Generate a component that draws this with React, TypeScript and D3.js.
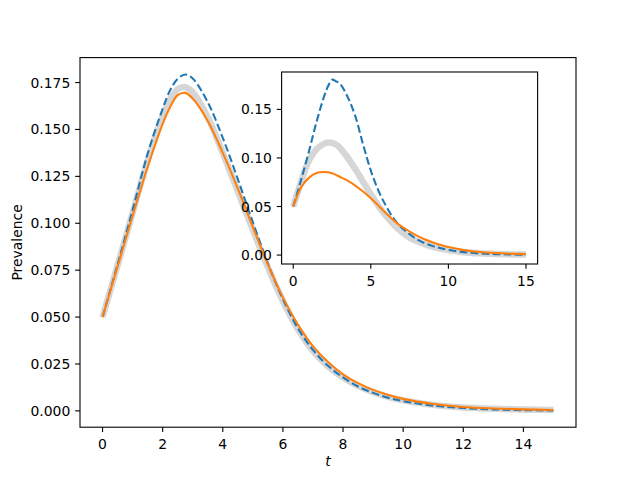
import React, { useEffect, useRef } from 'react'
import * as d3 from 'd3'

// time grid shared by every series
const tGrid = [0, 0.5, 1, 1.5, 2, 2.25, 2.5, 2.75, 3, 3.5, 4, 4.5, 5, 5.5, 6, 6.5, 7, 7.5, 8, 8.5, 9, 9.5, 10, 11, 12, 13, 14, 15]

// main panel
const mainMeanField = [0.05, 0.078, 0.107, 0.137, 0.161, 0.171, 0.177, 0.1793, 0.1772, 0.1645, 0.1455, 0.1235, 0.1005, 0.0785, 0.0595, 0.044, 0.0325, 0.024, 0.0178, 0.013, 0.0096, 0.007, 0.0052, 0.0028, 0.0015, 0.0008, 0.0004, 0.0002]
const mainExact = [0.05, 0.0775, 0.1055, 0.1335, 0.157, 0.166, 0.1715, 0.1725, 0.1698, 0.1565, 0.1375, 0.117, 0.0965, 0.0765, 0.0585, 0.0435, 0.032, 0.0238, 0.0178, 0.0133, 0.0100, 0.0075, 0.0056, 0.0032, 0.0018, 0.0011, 0.0007, 0.0005]
const mainApprox = [0.05, 0.077, 0.104, 0.130, 0.153, 0.162, 0.1683, 0.1695, 0.1665, 0.1545, 0.1375, 0.1185, 0.098, 0.078, 0.0605, 0.046, 0.0345, 0.026, 0.0195, 0.0148, 0.0112, 0.0085, 0.0064, 0.0037, 0.0021, 0.0013, 0.0008, 0.0005]

// inset panel
const insetMeanField = [0.05, 0.077, 0.106, 0.137, 0.164, 0.174, 0.1806, 0.179, 0.1765, 0.163, 0.143, 0.114, 0.087, 0.066, 0.050, 0.037, 0.028, 0.0215, 0.016, 0.012, 0.0092, 0.007, 0.0053, 0.003, 0.0017, 0.001, 0.0006, 0.0003]
const insetExact = [0.05, 0.075, 0.097, 0.109, 0.1148, 0.1158, 0.1155, 0.1138, 0.1105, 0.1005, 0.0885, 0.0755, 0.0625, 0.0505, 0.040, 0.031, 0.0237, 0.018, 0.0142, 0.011, 0.0085, 0.0066, 0.0051, 0.003, 0.0018, 0.0011, 0.0007, 0.0005]
const insetApprox = [0.05, 0.0695, 0.0795, 0.0845, 0.0856, 0.0852, 0.0842, 0.0826, 0.0806, 0.0766, 0.0716, 0.0654, 0.0585, 0.0508, 0.0428, 0.0354, 0.0292, 0.0242, 0.0198, 0.016, 0.013, 0.0105, 0.0082, 0.0051, 0.0032, 0.0021, 0.0014, 0.001]

const mainXTicks = [0, 2, 4, 6, 8, 10, 12, 14]
const mainYTicks = [0, 0.025, 0.05, 0.075, 0.1, 0.125, 0.15, 0.175]
const insetXTicks = [0, 5, 10, 15]
const insetYTicks = [0, 0.05, 0.1, 0.15]

const W = 640, H = 480
const FONT = 'DejaVu Sans, sans-serif'
const TICK = 4.86

function drawPanel(svg: any, box: { l: number, t: number, r: number, b: number }, series: number[][], xTicks: number[], yTicks: number[], yFmt: string, yDomain: [number, number]) {
  const x = d3.scaleLinear().domain([-0.75, 15.75]).range([box.l, box.r])
  const y = d3.scaleLinear().domain(yDomain).range([box.b, box.t])
  const g = svg.append('g')
  g.append('rect').attr('x', box.l).attr('y', box.t).attr('width', box.r - box.l).attr('height', box.b - box.t).attr('fill', 'white')

  const clipId = 'clip' + Math.round(box.l)
  svg.append('clipPath').attr('id', clipId).append('rect')
    .attr('x', box.l).attr('y', box.t).attr('width', box.r - box.l).attr('height', box.b - box.t)
  const plot = g.append('g').attr('clip-path', `url(#${clipId})`)

  const line = (vals: number[]) => d3.line<number>().x((_, i) => x(tGrid[i])).y(d => y(d)).curve(d3.curveCatmullRom.alpha(0.5))(vals)

  const [mf, ex, ap] = series
  plot.append('path').attr('d', line(ex)).attr('fill', 'none').attr('stroke', '#d6d6d6').attr('stroke-width', 6.5).attr('stroke-linecap', 'butt')
  plot.append('path').attr('d', line(mf)).attr('fill', 'none').attr('stroke', '#1f77b4').attr('stroke-width', 2.08).attr('stroke-dasharray', '7.7,3.33')
  plot.append('path').attr('d', line(ap)).attr('fill', 'none').attr('stroke', '#ff7f0e').attr('stroke-width', 2.08)

  // ticks
  xTicks.forEach(v => {
    g.append('line').attr('x1', x(v)).attr('x2', x(v)).attr('y1', box.b).attr('y2', box.b + TICK).attr('stroke', 'black').attr('stroke-width', 1.1)
    g.append('text').attr('x', x(v)).attr('y', box.b + 21.5).attr('text-anchor', 'middle')
      .attr('font-family', FONT).attr('font-size', 13.9).text(String(v))
  })
  yTicks.forEach(v => {
    g.append('line').attr('x1', box.l - TICK).attr('x2', box.l).attr('y1', y(v)).attr('y2', y(v)).attr('stroke', 'black').attr('stroke-width', 1.1)
    g.append('text').attr('x', box.l - 2 * TICK).attr('y', y(v)).attr('dy', '0.36em').attr('text-anchor', 'end')
      .attr('font-family', FONT).attr('font-size', 13.9).text(d3.format(yFmt)(v))
  })
  g.append('rect').attr('x', box.l).attr('y', box.t).attr('width', box.r - box.l).attr('height', box.b - box.t)
    .attr('fill', 'none').attr('stroke', 'black').attr('stroke-width', 1.1)
}

export default function App() {
  const ref = useRef<SVGSVGElement>(null)
  useEffect(() => {
    const el = ref.current
    if (!el) return
    const svg = d3.select(el)
    svg.selectAll('*').remove()
    svg.append('rect').attr('width', W).attr('height', H).attr('fill', 'white')

    drawPanel(svg, { l: 80, t: 57.6, r: 576, b: 427.2 }, [mainMeanField, mainExact, mainApprox], mainXTicks, mainYTicks, '.3f', [-0.0087, 0.1883])
    drawPanel(svg, { l: 281.6, t: 72, r: 537.6, b: 264 }, [insetMeanField, insetExact, insetApprox], insetXTicks, insetYTicks, '.2f', [-0.0092, 0.1885])

    svg.append('text').attr('x', 328).attr('y', 466).attr('text-anchor', 'middle')
      .attr('font-family', FONT).attr('font-size', 13.9).attr('font-style', 'italic').text('t')
    svg.append('text').attr('transform', 'translate(22,242.4) rotate(-90)').attr('text-anchor', 'middle')
      .attr('font-family', FONT).attr('font-size', 13.9).text('Prevalence')
  }, [])

  return <svg ref={ref} width={W} height={H} style={{ position: 'absolute', left: 0, top: 0 }} />
}
